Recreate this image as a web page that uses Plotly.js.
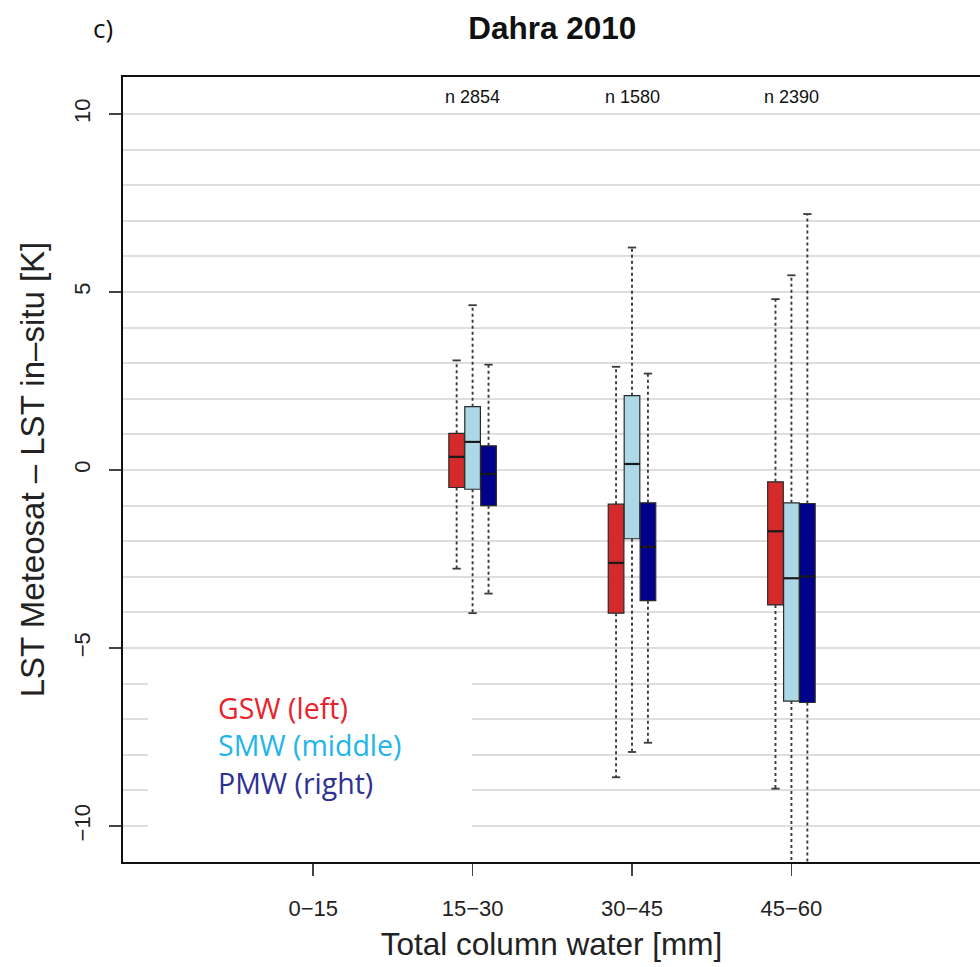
<!DOCTYPE html>
<html>
<head>
<meta charset="utf-8">
<script src="https://cdn.plot.ly/plotly-3.0.1.min.js"></script>
<style>html,body{margin:0;padding:0;background:#fff;overflow:hidden}</style>
</head>
<body>
<div id="chart" style="width:980px;height:967px"></div>
<script>
// ---- data ----
const categories = ['0\u221215', '15\u221230', '30\u221245', '45\u221260'];
const catPos = [1, 2, 3, 4];
const nLabels = ['n 2854', 'n 1580', 'n 2390'];
const boxPos = [2, 3, 4];            // categories that hold boxes
const gridVals = [-10,-9,-8,-7,-6,-5,-4,-3,-2,-1,0,1,2,3,4,5,6,7,8,9,10];
const yTicks = [-10, -5, 0, 5, 10];

const gswUpper  = [3.08, 2.90, 4.80];
const gswQ3     = [1.03, -0.96, -0.33];
const gswMedian = [0.37, -2.61, -1.72];
const gswQ1     = [-0.49, -4.02, -3.79];
const gswLower  = [-2.77, -8.63, -8.95];

const smwUpper  = [4.63, 6.25, 5.47];
const smwQ3     = [1.78, 2.09, -0.92];
const smwMedian = [0.79, 0.17, -3.04];
const smwQ1     = [-0.54, -1.93, -6.49];
const smwLower  = [-4.02, -7.92, -12.5];

const pmwUpper  = [2.96, 2.71, 7.19];
const pmwQ3     = [0.68, -0.92, -0.94];
const pmwMedian = [-0.11, -2.16, -2.99];
const pmwQ1     = [-1.00, -3.67, -6.53];
const pmwLower  = [-3.47, -7.66, -12.5];

const legendNames = ['GSW (left)', 'SMW (middle)', 'PMW (right)'];

// ---- styling ----
const series = [
  {up: gswUpper, q3: gswQ3, med: gswMedian, q1: gswQ1, lo: gswLower, off: -0.1, fill: '#d42a2b'},
  {up: smwUpper, q3: smwQ3, med: smwMedian, q1: smwQ1, lo: smwLower, off: 0,    fill: '#add8e6'},
  {up: pmwUpper, q3: pmwQ3, med: pmwMedian, q1: pmwQ1, lo: pmwLower, off: 0.1,  fill: '#00008b'}
];
const legendColors = ['#e8232d', '#22b5e9', '#2e3192'];
const BW = 0.098, CAP = 0.026;

const traces = [];
series.forEach(s => {
  const xs = boxPos.map(p => p + s.off);
  const wx = [], wy = [], cx = [], cy = [];
  xs.forEach((x, i) => {
    wx.push(x, x, null, x, x, null);
    wy.push(s.q3[i], s.up[i], null, s.q1[i], s.lo[i], null);
    cx.push(x - CAP, x + CAP, null, x - CAP, x + CAP, null);
    cy.push(s.up[i], s.up[i], null, s.lo[i], s.lo[i], null);
  });
  traces.push({type: 'scatter', mode: 'lines', x: wx, y: wy, hoverinfo: 'skip',
    line: {color: '#3a3a3a', width: 1.9, dash: '3px,3px'}, showlegend: false});
  traces.push({type: 'scatter', mode: 'lines', x: cx, y: cy, hoverinfo: 'skip',
    line: {color: '#3a3a3a', width: 1.8}, showlegend: false});
  traces.push({type: 'bar', x: xs, base: s.q1, y: s.q3.map((v, i) => v - s.q1[i]),
    width: BW, marker: {color: s.fill, line: {color: '#2a2a2a', width: 1.2}},
    showlegend: false, hoverinfo: 'skip'});
  const mx = [], my = [];
  xs.forEach((x, i) => { mx.push(x - BW / 2, x + BW / 2, null); my.push(s.med[i], s.med[i], null); });
  traces.push({type: 'scatter', mode: 'lines', x: mx, y: my, hoverinfo: 'skip',
    line: {color: '#1a1a1a', width: 2.2}, showlegend: false});
});

const annotations = [];
boxPos.forEach((p, i) => annotations.push({
  x: p, y: 10.48, xref: 'x', yref: 'y', text: nLabels[i], showarrow: false,
  font: {family: '"Liberation Sans Narrow", "Liberation Sans", Arial, sans-serif', size: 18, color: '#111'}
}));
const legY = [0.196, 0.149, 0.1006];
legendNames.forEach((t, i) => annotations.push({
  x: (216 - 123) / 857, y: legY[i], xref: 'paper', yref: 'paper', xanchor: 'left', yanchor: 'middle',
  text: t, showarrow: false,
  font: {family: '"Open Sans", "Noto Sans", sans-serif', size: 28.5, color: legendColors[i]}
}));
annotations.push({
  x: (103 - 123) / 857, y: 1 + (77 - 28) / 785, xref: 'paper', yref: 'paper',
  xanchor: 'center', yanchor: 'middle', text: 'c)', showarrow: false,
  font: {family: '"Open Sans", "Noto Sans", sans-serif', size: 26, color: '#111'}
});

const layout = {
  width: 980, height: 967,
  margin: {l: 123, r: 0, t: 77, b: 105},
  paper_bgcolor: '#fff', plot_bgcolor: '#fff',
  barmode: 'overlay',
  showlegend: false,
  font: {family: '"Liberation Sans", Arial, Helvetica, sans-serif', color: '#222'},
  title: {text: '<b>Dahra 2010</b>', x: 0.5635, xanchor: 'center', xref: 'container',
    y: 1 - 27.5 / 967, yref: 'container', yanchor: 'middle',
    font: {family: '"Liberation Sans", Arial, sans-serif', size: 31.5, color: '#111'}},
  xaxis: {
    range: [-0.193, 5.183], tickvals: catPos, ticktext: categories,
    showgrid: false, zeroline: false,
    showline: true, linecolor: '#111', linewidth: 2, mirror: true,
    ticks: 'outside', ticklen: 12, tickwidth: 1.5, tickcolor: '#444',
    ticklabelstandoff: 14,
    tickfont: {size: 22, color: '#222'},
    title: {text: 'Total column water [mm]', standoff: 13, font: {size: 31.5, color: '#222'}}
  },
  yaxis: {
    range: [-11.01, 11.04], tickvals: yTicks, ticktext: yTicks.map(v => v < 0 ? '\u2212' + Math.abs(v) : String(v)),
    tickangle: -90,
    showgrid: true, gridcolor: '#dedede', gridwidth: 2,
    minor: {tickvals: gridVals, showgrid: true, gridcolor: '#dedede', gridwidth: 2, ticks: ''},
    zeroline: false,
    showline: true, linecolor: '#111', linewidth: 2,
    ticks: 'outside', ticklen: 12, tickwidth: 1.5, tickcolor: '#444',
    ticklabelstandoff: 10,
    tickfont: {size: 22, color: '#222'},
    title: {text: 'LST Meteosat \u2013 LST in\u2013situ [K]', standoff: 16, font: {size: 33, color: '#222'}}
  },
  shapes: [{
    type: 'rect', xref: 'paper', yref: 'y', layer: 'above',
    x0: (148 - 123) / 857, x1: (472 - 123) / 857, y0: -5.5, y1: -10.7,
    fillcolor: '#fff', line: {width: 0}
  }],
  annotations: annotations
};

Plotly.newPlot('chart', traces, layout, {staticPlot: true, displayModeBar: false});
</script>
</body>
</html>
